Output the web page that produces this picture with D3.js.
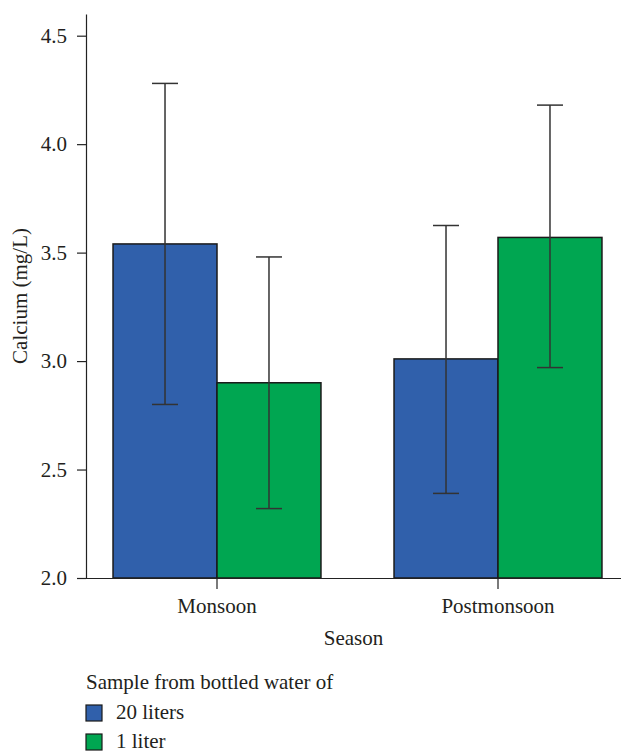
<!DOCTYPE html>
<html>
<head>
<meta charset="utf-8">
<script src="https://cdn.jsdelivr.net/npm/d3@7"></script>
<style>
  body { margin: 0; background: #fff; }
  svg text { font-family: 'Liberation Serif', 'Times New Roman', serif; fill: #231f20; }
</style>
</head>
<body>
<svg id="chart" width="621" height="753"></svg>
<script>
var seasons = ['Monsoon', 'Postmonsoon']
var groups = ['20 liters', '1 liter']
var colors = ['#3060ab', '#00a651']
// means and error bar ends, per season, in order of groups
var means = [[3.54, 2.90], [3.01, 3.57]]
var errLow = [[2.80, 2.32], [2.39, 2.97]]
var errHigh = [[4.28, 3.48], [3.625, 4.18]]
var yTicks = [2.0, 2.5, 3.0, 3.5, 4.0, 4.5]

var svg = d3.select('#chart')
var marginLeft = 86, plotBottom = 578, plotTop = 14
var fontSize = '21px'

var y = d3.scaleLinear().domain([2.0, 4.6]).range([plotBottom, plotTop])
var x0 = d3.scaleBand().domain(seasons).range([76.5, 638.5])
  .paddingInner(0.26).paddingOuter(0.13)
var x1 = d3.scaleBand().domain(groups).range([0, x0.bandwidth()])

var data = []
seasons.forEach(function (s, i) {
  groups.forEach(function (g, j) {
    data.push({ season: s, group: g, color: colors[j], mean: means[i][j], lo: errLow[i][j], hi: errHigh[i][j] })
  })
})

// bars
svg.selectAll('.bar')
  .data(data)
  .enter().append('rect')
  .attr('class', 'bar')
  .attr('x', function (d) { return x0(d.season) + x1(d.group) })
  .attr('y', function (d) { return y(d.mean) })
  .attr('width', x1.bandwidth())
  .attr('height', function (d) { return plotBottom - y(d.mean) })
  .attr('fill', function (d) { return d.color })
  .attr('stroke', '#1a1a1a')
  .attr('stroke-width', 1.5)

// error bars
var eb = svg.selectAll('.err')
  .data(data)
  .enter().append('g')
  .attr('class', 'err')
  .attr('stroke', '#333')
  .attr('stroke-width', 1.5)
  .attr('transform', function (d) { return 'translate(' + (x0(d.season) + x1(d.group) + x1.bandwidth() / 2) + ',0)' })
eb.append('line')
  .attr('x1', 0).attr('x2', 0)
  .attr('y1', function (d) { return y(d.lo) })
  .attr('y2', function (d) { return y(d.hi) })
eb.append('line')
  .attr('x1', -13).attr('x2', 13)
  .attr('y1', function (d) { return y(d.hi) })
  .attr('y2', function (d) { return y(d.hi) })
eb.append('line')
  .attr('x1', -13).attr('x2', 13)
  .attr('y1', function (d) { return y(d.lo) })
  .attr('y2', function (d) { return y(d.lo) })

// y axis
var yAxis = svg.append('g')
  .attr('transform', 'translate(' + marginLeft + ',0)')
  .call(d3.axisLeft(y).tickValues(yTicks).tickFormat(d3.format('.1f')).tickSize(9).tickSizeOuter(0).tickPadding(10))
yAxis.selectAll('text').style('font-size', fontSize)

// x axis
var xAxis = svg.append('g')
  .attr('transform', 'translate(0,' + plotBottom + ')')
  .call(d3.axisBottom(x0).tickSize(11).tickSizeOuter(0).tickPadding(9))
xAxis.selectAll('text').style('font-size', fontSize)

svg.selectAll('.domain, .tick line').attr('stroke', '#222').attr('stroke-width', 1.2)

// axis titles
svg.append('text')
  .attr('transform', 'translate(27,' + ((plotBottom + plotTop) / 2) + ') rotate(-90)')
  .attr('text-anchor', 'middle')
  .style('font-size', fontSize)
  .text('Calcium (mg/L)')

svg.append('text')
  .attr('x', (marginLeft + 621) / 2)
  .attr('y', 645)
  .attr('text-anchor', 'middle')
  .style('font-size', fontSize)
  .text('Season')

// legend
svg.append('text')
  .attr('x', 86)
  .attr('y', 689)
  .style('font-size', fontSize)
  .text('Sample from bottled water of')

var leg = svg.selectAll('.leg')
  .data(groups)
  .enter().append('g')
  .attr('class', 'leg')
  .attr('transform', function (d, i) { return 'translate(86,' + (705 + i * 29) + ')' })
leg.append('rect')
  .attr('width', 16).attr('height', 16)
  .attr('fill', function (d, i) { return colors[i] })
  .attr('stroke', '#1a1a1a')
  .attr('stroke-width', 1.2)
leg.append('text')
  .attr('x', 30)
  .attr('y', 14)
  .style('font-size', fontSize)
  .text(function (d) { return d })
</script>
</body>
</html>
